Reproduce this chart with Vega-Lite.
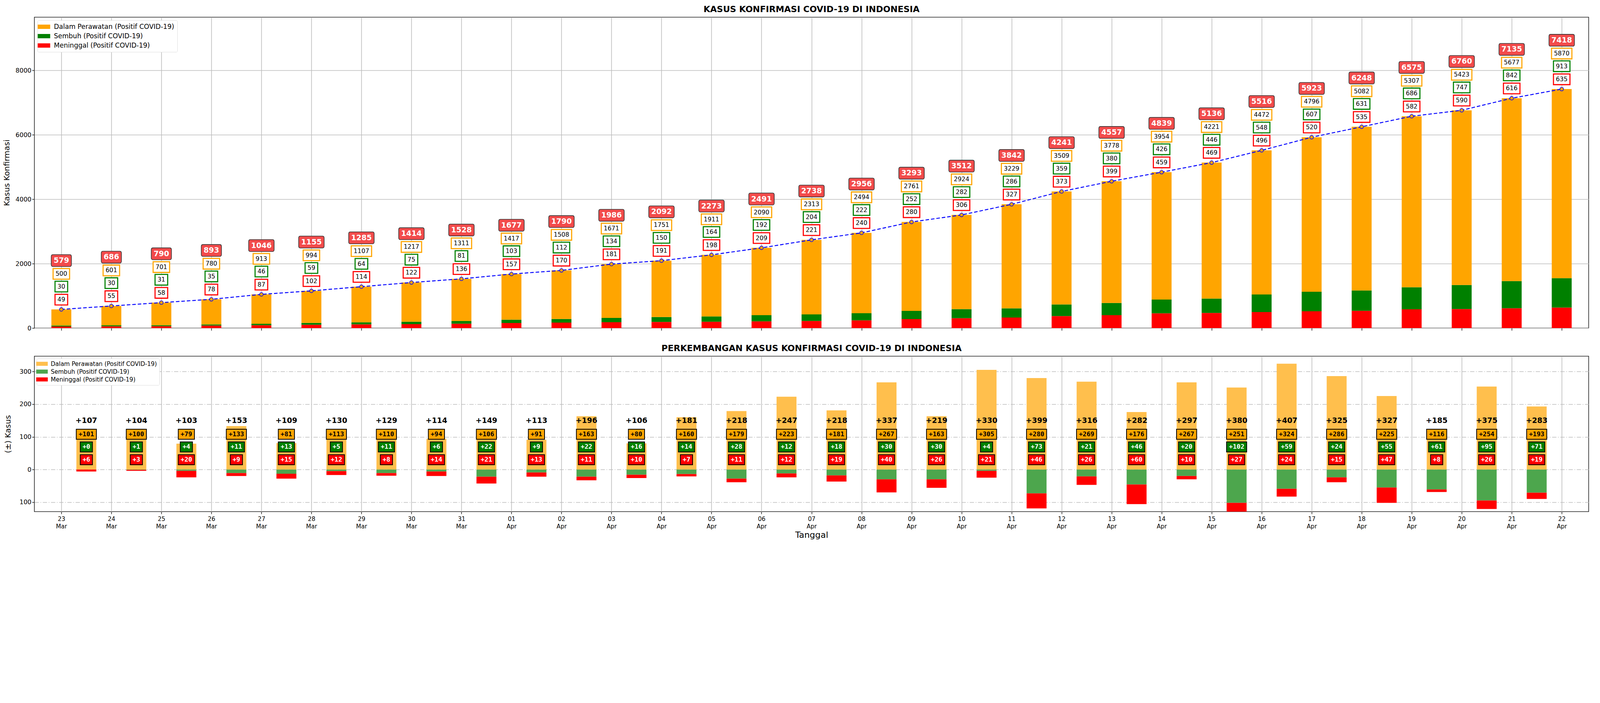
{
"$schema":"https://vega.github.io/schema/vega-lite/v6.json",
"background":"white",
"padding":{"left":6,"top":12,"right":16,"bottom":4},
"config":{"font":"DejaVu Sans","view":{"stroke":"#222","strokeWidth":1.6},"axis":{"labelFontSize":16,"titleFontSize":20,"titleFontWeight":"normal","gridColor":"#bbb","gridWidth":1.6,"domain":false,"tickColor":"#222","tickWidth":1.6,"tickSize":6,"labelColor":"#000","titleColor":"#000"},"title":{"fontSize":22,"fontWeight":"bold","color":"#000"}},
"datasets":{
"top":[
{"d":"2020-03-23T00:00","total":579,"p":500,"s":30,"m":49},
{"d":"2020-03-24T00:00","total":686,"p":601,"s":30,"m":55},
{"d":"2020-03-25T00:00","total":790,"p":701,"s":31,"m":58},
{"d":"2020-03-26T00:00","total":893,"p":780,"s":35,"m":78},
{"d":"2020-03-27T00:00","total":1046,"p":913,"s":46,"m":87},
{"d":"2020-03-28T00:00","total":1155,"p":994,"s":59,"m":102},
{"d":"2020-03-29T00:00","total":1285,"p":1107,"s":64,"m":114},
{"d":"2020-03-30T00:00","total":1414,"p":1217,"s":75,"m":122},
{"d":"2020-03-31T00:00","total":1528,"p":1311,"s":81,"m":136},
{"d":"2020-04-01T00:00","total":1677,"p":1417,"s":103,"m":157},
{"d":"2020-04-02T00:00","total":1790,"p":1508,"s":112,"m":170},
{"d":"2020-04-03T00:00","total":1986,"p":1671,"s":134,"m":181},
{"d":"2020-04-04T00:00","total":2092,"p":1751,"s":150,"m":191},
{"d":"2020-04-05T00:00","total":2273,"p":1911,"s":164,"m":198},
{"d":"2020-04-06T00:00","total":2491,"p":2090,"s":192,"m":209},
{"d":"2020-04-07T00:00","total":2738,"p":2313,"s":204,"m":221},
{"d":"2020-04-08T00:00","total":2956,"p":2494,"s":222,"m":240},
{"d":"2020-04-09T00:00","total":3293,"p":2761,"s":252,"m":280},
{"d":"2020-04-10T00:00","total":3512,"p":2924,"s":282,"m":306},
{"d":"2020-04-11T00:00","total":3842,"p":3229,"s":286,"m":327},
{"d":"2020-04-12T00:00","total":4241,"p":3509,"s":359,"m":373},
{"d":"2020-04-13T00:00","total":4557,"p":3778,"s":380,"m":399},
{"d":"2020-04-14T00:00","total":4839,"p":3954,"s":426,"m":459},
{"d":"2020-04-15T00:00","total":5136,"p":4221,"s":446,"m":469},
{"d":"2020-04-16T00:00","total":5516,"p":4472,"s":548,"m":496},
{"d":"2020-04-17T00:00","total":5923,"p":4796,"s":607,"m":520},
{"d":"2020-04-18T00:00","total":6248,"p":5082,"s":631,"m":535},
{"d":"2020-04-19T00:00","total":6575,"p":5307,"s":686,"m":582},
{"d":"2020-04-20T00:00","total":6760,"p":5423,"s":747,"m":590},
{"d":"2020-04-21T00:00","total":7135,"p":5677,"s":842,"m":616},
{"d":"2020-04-22T00:00","total":7418,"p":5870,"s":913,"m":635}
],
"bot":[
{"d":"2020-03-23T12:00","t":107,"p":101,"s":0,"m":6},
{"d":"2020-03-24T12:00","t":104,"p":100,"s":1,"m":3},
{"d":"2020-03-25T12:00","t":103,"p":79,"s":4,"m":20},
{"d":"2020-03-26T12:00","t":153,"p":133,"s":11,"m":9},
{"d":"2020-03-27T12:00","t":109,"p":81,"s":13,"m":15},
{"d":"2020-03-28T12:00","t":130,"p":113,"s":5,"m":12},
{"d":"2020-03-29T12:00","t":129,"p":110,"s":11,"m":8},
{"d":"2020-03-30T12:00","t":114,"p":94,"s":6,"m":14},
{"d":"2020-03-31T12:00","t":149,"p":106,"s":22,"m":21},
{"d":"2020-04-01T12:00","t":113,"p":91,"s":9,"m":13},
{"d":"2020-04-02T12:00","t":196,"p":163,"s":22,"m":11},
{"d":"2020-04-03T12:00","t":106,"p":80,"s":16,"m":10},
{"d":"2020-04-04T12:00","t":181,"p":160,"s":14,"m":7},
{"d":"2020-04-05T12:00","t":218,"p":179,"s":28,"m":11},
{"d":"2020-04-06T12:00","t":247,"p":223,"s":12,"m":12},
{"d":"2020-04-07T12:00","t":218,"p":181,"s":18,"m":19},
{"d":"2020-04-08T12:00","t":337,"p":267,"s":30,"m":40},
{"d":"2020-04-09T12:00","t":219,"p":163,"s":30,"m":26},
{"d":"2020-04-10T12:00","t":330,"p":305,"s":4,"m":21},
{"d":"2020-04-11T12:00","t":399,"p":280,"s":73,"m":46},
{"d":"2020-04-12T12:00","t":316,"p":269,"s":21,"m":26},
{"d":"2020-04-13T12:00","t":282,"p":176,"s":46,"m":60},
{"d":"2020-04-14T12:00","t":297,"p":267,"s":20,"m":10},
{"d":"2020-04-15T12:00","t":380,"p":251,"s":102,"m":27},
{"d":"2020-04-16T12:00","t":407,"p":324,"s":59,"m":24},
{"d":"2020-04-17T12:00","t":325,"p":286,"s":24,"m":15},
{"d":"2020-04-18T12:00","t":327,"p":225,"s":55,"m":47},
{"d":"2020-04-19T12:00","t":185,"p":116,"s":61,"m":8},
{"d":"2020-04-20T12:00","t":375,"p":254,"s":95,"m":26},
{"d":"2020-04-21T12:00","t":283,"p":193,"s":71,"m":19}
]},
"resolve":{"scale":{"color":"independent"},"legend":{"color":"independent"}},
"spacing":31,
"vconcat":[
{"width":3979,"height":796,
 "title":{"text":"KASUS KONFIRMASI COVID-19 DI INDONESIA","offset":8},
 "data":{"name":"top"},
 "encoding":{"x":{"field":"d","type":"temporal","scale":{"domain":[{"year":2020,"month":3,"date":22,"hours":12},{"year":2020,"month":4,"date":22,"hours":12}]},"axis":{"title":null,"labels":false,"tickCount":{"interval":"day","step":1},"grid":true}}},
 "layer":[
  {"transform":[{"fold":["m","s","p"],"as":["k","v"]},
    {"calculate":"datum.k=='m'?'Meninggal (Positif COVID-19)':datum.k=='s'?'Sembuh (Positif COVID-19)':'Dalam Perawatan (Positif COVID-19)'","as":"kat"},
    {"calculate":"indexof(['m','s','p'],datum.k)","as":"ord"}],
   "mark":{"type":"bar","size":51},
   "encoding":{"y":{"field":"v","type":"quantitative","stack":"zero","scale":{"domain":[0,9650],"nice":false},"axis":{"title":"Kasus Konfirmasi","values":[0,2000,4000,6000,8000],"format":"d","grid":true,"minExtent":46,"titlePadding":12}},
    "order":{"field":"ord","type":"quantitative"},
    "color":{"field":"kat","type":"nominal","scale":{"domain":["Dalam Perawatan (Positif COVID-19)","Sembuh (Positif COVID-19)","Meninggal (Positif COVID-19)"],"range":["#FFA500","#008000","#FF0000"]},
      "legend":{"title":null,"orient":"top-left","offset":8,"labelFontSize":17,"labelLimit":0,"symbolType":"M-2,-0.7H2V0.7H-2Z","symbolSize":256,"symbolStrokeWidth":0,"fillColor":"white","strokeColor":"#ddd","padding":8,"cornerRadius":3,"rowPadding":6,"labelOffset":17}}}},
  {"mark":{"type":"line","color":"blue","strokeWidth":2.4,"strokeDash":[9,5]},"encoding":{"y":{"field":"total","type":"quantitative"}}},
  {"mark":{"type":"point","filled":true,"fill":"#FFA500","stroke":"blue","strokeWidth":1.6,"size":85,"opacity":1},"encoding":{"y":{"field":"total","type":"quantitative"}}},
  {"transform":[{"calculate":"length(toString(datum.total))*17.4/2+7","as":"hw"},{"calculate":"'M'+(-datum.hw+6)+',-19.5H'+(datum.hw-6)+'Q'+datum.hw+',-19.5 '+datum.hw+',-13.5V13.5Q'+datum.hw+',19.5 '+(datum.hw-6)+',19.5H'+(-datum.hw+6)+'Q'+(-datum.hw)+',19.5 '+(-datum.hw)+',13.5V-13.5Q'+(-datum.hw)+',-19.5 '+(-datum.hw+6)+',-19.5Z'","as":"shp"}],
   "mark":{"type":"point","filled":true,"fill":"#F24B4B","stroke":"#333","strokeWidth":1.6,"size":2.4336,"opacity":1,"yOffset":-125},
   "encoding":{"y":{"field":"total","type":"quantitative"},"shape":{"field":"shp","type":"nominal","scale":null}}},
  {"mark":{"type":"text","fontSize":19,"fontWeight":"bold","color":"white","yOffset":-125,"baseline":"middle"},"encoding":{"y":{"field":"total","type":"quantitative"},"text":{"field":"total","type":"quantitative","format":"d"}}},
  {"transform":[{"calculate":"length(toString(datum.p))*12.7/2+8","as":"hw"},{"calculate":"'M'+(-datum.hw)+',-17.5H'+datum.hw+'V17.5H'+(-datum.hw)+'Z'","as":"shp"}],
   "mark":{"type":"point","filled":true,"fill":"white","stroke":"#FFA500","strokeWidth":2.8,"size":2.4336,"opacity":1,"yOffset":-91},
   "encoding":{"y":{"field":"total","type":"quantitative"},"shape":{"field":"shp","type":"nominal","scale":null}}},
  {"mark":{"type":"text","fontSize":15.6,"color":"black","yOffset":-91,"baseline":"middle"},"encoding":{"y":{"field":"total","type":"quantitative"},"text":{"field":"p","type":"quantitative","format":"d"}}},
  {"transform":[{"calculate":"length(toString(datum.s))*12.7/2+8","as":"hw"},{"calculate":"'M'+(-datum.hw)+',-17.5H'+datum.hw+'V17.5H'+(-datum.hw)+'Z'","as":"shp"}],
   "mark":{"type":"point","filled":true,"fill":"white","stroke":"#008000","strokeWidth":2.8,"size":2.4336,"opacity":1,"yOffset":-58.5},
   "encoding":{"y":{"field":"total","type":"quantitative"},"shape":{"field":"shp","type":"nominal","scale":null}}},
  {"mark":{"type":"text","fontSize":15.6,"color":"black","yOffset":-58.5,"baseline":"middle"},"encoding":{"y":{"field":"total","type":"quantitative"},"text":{"field":"s","type":"quantitative","format":"d"}}},
  {"transform":[{"calculate":"length(toString(datum.m))*12.7/2+8","as":"hw"},{"calculate":"'M'+(-datum.hw)+',-17.5H'+datum.hw+'V17.5H'+(-datum.hw)+'Z'","as":"shp"}],
   "mark":{"type":"point","filled":true,"fill":"white","stroke":"#FF0000","strokeWidth":2.8,"size":2.4336,"opacity":1,"yOffset":-25},
   "encoding":{"y":{"field":"total","type":"quantitative"},"shape":{"field":"shp","type":"nominal","scale":null}}},
  {"mark":{"type":"text","fontSize":15.6,"color":"black","yOffset":-25,"baseline":"middle"},"encoding":{"y":{"field":"total","type":"quantitative"},"text":{"field":"m","type":"quantitative","format":"d"}}}
 ]},
{"width":3979,"height":398,
 "title":{"text":"PERKEMBANGAN KASUS KONFIRMASI COVID-19 DI INDONESIA","offset":8},
 "data":{"name":"bot"},
 "encoding":{"x":{"field":"d","type":"temporal","scale":{"domain":[{"year":2020,"month":3,"date":22,"hours":12},{"year":2020,"month":4,"date":22,"hours":12}]},"axis":{"title":"Tanggal","titleFontSize":22,"tickCount":{"interval":"day","step":1},"grid":true,"labelExpr":"[timeFormat(datum.value,'%d'), timeFormat(datum.value,'%b')]","labelLineHeight":19,"labelPadding":5,"labelFontSize":15}}},
 "layer":[
  {"transform":[{"fold":["p","s","m"],"as":["k","v"]},
    {"calculate":"datum.k=='m'?'Meninggal (Positif COVID-19)':datum.k=='s'?'Sembuh (Positif COVID-19)':'Dalam Perawatan (Positif COVID-19)'","as":"kat2"},
    {"calculate":"datum.k=='p'?0:datum.k=='s'?-datum.s:-(datum.s+datum.m)","as":"lo"},
    {"calculate":"datum.k=='p'?datum.p:datum.k=='s'?0:-datum.s","as":"hi"}],
   "mark":{"type":"bar","size":51},
   "encoding":{"y":{"field":"lo","type":"quantitative","scale":{"domain":[-129,347],"nice":false},"axis":{"title":"(±) Kasus","values":[-100,0,100,200,300],"labelExpr":"abs(datum.value)","grid":true,"gridDash":[11,4,2,4],"minExtent":46,"titlePadding":12}},
    "y2":{"field":"hi"},
    "color":{"field":"kat2","type":"nominal","scale":{"domain":["Dalam Perawatan (Positif COVID-19)","Sembuh (Positif COVID-19)","Meninggal (Positif COVID-19)"],"range":["#FFBF4D","#4DA64D","#FF0000"]},
      "legend":{"title":null,"orient":"top-left","offset":6,"labelFontSize":15,"labelLimit":0,"symbolType":"M-2,-0.7H2V0.7H-2Z","symbolSize":220,"symbolStrokeWidth":0,"fillColor":"white","strokeColor":"#ddd","padding":6,"cornerRadius":3,"rowPadding":4,"labelOffset":15}}}},
  {"mark":{"type":"rule","color":"#777","strokeWidth":2.4,"strokeDash":[9,5]},"encoding":{"y":{"datum":0}},"transform":[{"filter":"datum.t==107"}]},
  {"mark":{"type":"text","fontSize":19,"fontWeight":"bold","color":"black","baseline":"middle"},"encoding":{"y":{"datum":150},"text":{"field":"tt","type":"nominal"}},"transform":[{"calculate":"'+'+datum.t","as":"tt"}]},
  {"transform":[{"fold":["p","s","m"],"as":["k","v"]},{"calculate":"'+'+datum.v","as":"lab"},{"calculate":"datum.k=='p'?108:datum.k=='s'?69:30","as":"yy"},{"calculate":"length(datum.lab)*13/2+7","as":"hw"},{"calculate":"'M'+(-datum.hw)+',-16.5H'+datum.hw+'V16.5H'+(-datum.hw)+'Z'","as":"shp"}],
   "layer":[
    {"mark":{"type":"point","filled":true,"stroke":"black","strokeWidth":2,"size":2.4336,"opacity":1},
     "encoding":{"y":{"field":"yy","type":"quantitative"},"shape":{"field":"shp","type":"nominal","scale":null},"fill":{"field":"k","type":"nominal","scale":{"domain":["p","s","m"],"range":["#FFA500","#008000","#FF0000"]},"legend":null}}},
    {"mark":{"type":"text","font":"DejaVu Sans Mono","fontSize":16.4,"fontWeight":"bold","baseline":"middle"},
     "encoding":{"y":{"field":"yy","type":"quantitative"},"text":{"field":"lab","type":"nominal"},"color":{"condition":{"test":"datum.k=='p'","value":"black"},"value":"white"}}}
   ]}
 ]}
]}
